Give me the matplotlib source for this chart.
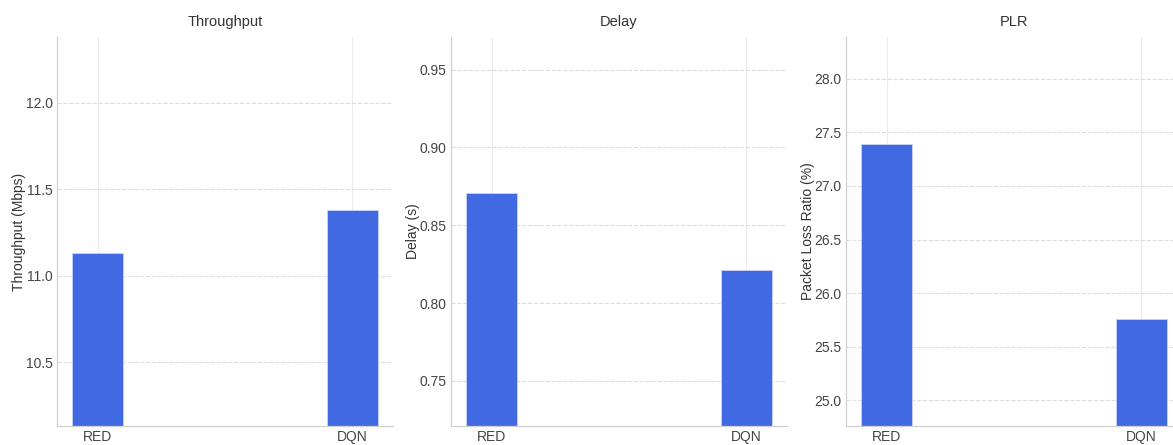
import matplotlib.pyplot as plt
from matplotlib.ticker import MultipleLocator

# data
methods = ["RED", "DQN"]
throughput = [11.13, 11.38]
delay = [0.871, 0.821]
plr = [27.39, 25.76]

panels = [
    ("Throughput", "Throughput (Mbps)", throughput, 1.0, 0.5),
    ("Delay", "Delay (s)", delay, 0.1, 0.05),
    ("PLR", "Packet Loss Ratio (%)", plr, 1.0, 0.5),
]

plt.style.use("seaborn-v0_8-whitegrid")
plt.rcParams["font.family"] = ["Liberation Sans", "DejaVu Sans"]

W, H = 1173, 445
fig = plt.figure(figsize=(W / 100, H / 100), dpi=100)

lefts = [57, 451, 846]
ax_w, ax_top, ax_bot = 336, 37, 426

for left, (title, ylabel, vals, pad, step) in zip(lefts, panels):
    ax = fig.add_axes([left / W, (H - ax_bot) / H, ax_w / W, (ax_bot - ax_top) / H])
    ax.bar(methods, vals, width=0.2, color="royalblue", edgecolor="#c9d4f5", linewidth=0.6)
    ax.set_ylim(min(vals) - pad, max(vals) + pad)
    ax.yaxis.set_major_locator(MultipleLocator(step))
    ax.set_title(title, fontsize=10.5, color="#333333", pad=8)
    ax.set_ylabel(ylabel, fontsize=10, color="#333333", labelpad=0)
    ax.tick_params(labelsize=10, colors="#444444", pad=3)
    ax.grid(axis="x", color="#ececec", linestyle="-", linewidth=0.8)
    ax.grid(axis="y", color="#dddddd", linestyle="--", linewidth=0.8)
    ax.set_axisbelow(True)
    for side in ["top", "right"]:
        ax.spines[side].set_visible(False)
    for side in ["left", "bottom"]:
        ax.spines[side].set_color("#d0d0d0")
        ax.spines[side].set_linewidth(0.9)

fig.savefig("out.png", dpi=100)
